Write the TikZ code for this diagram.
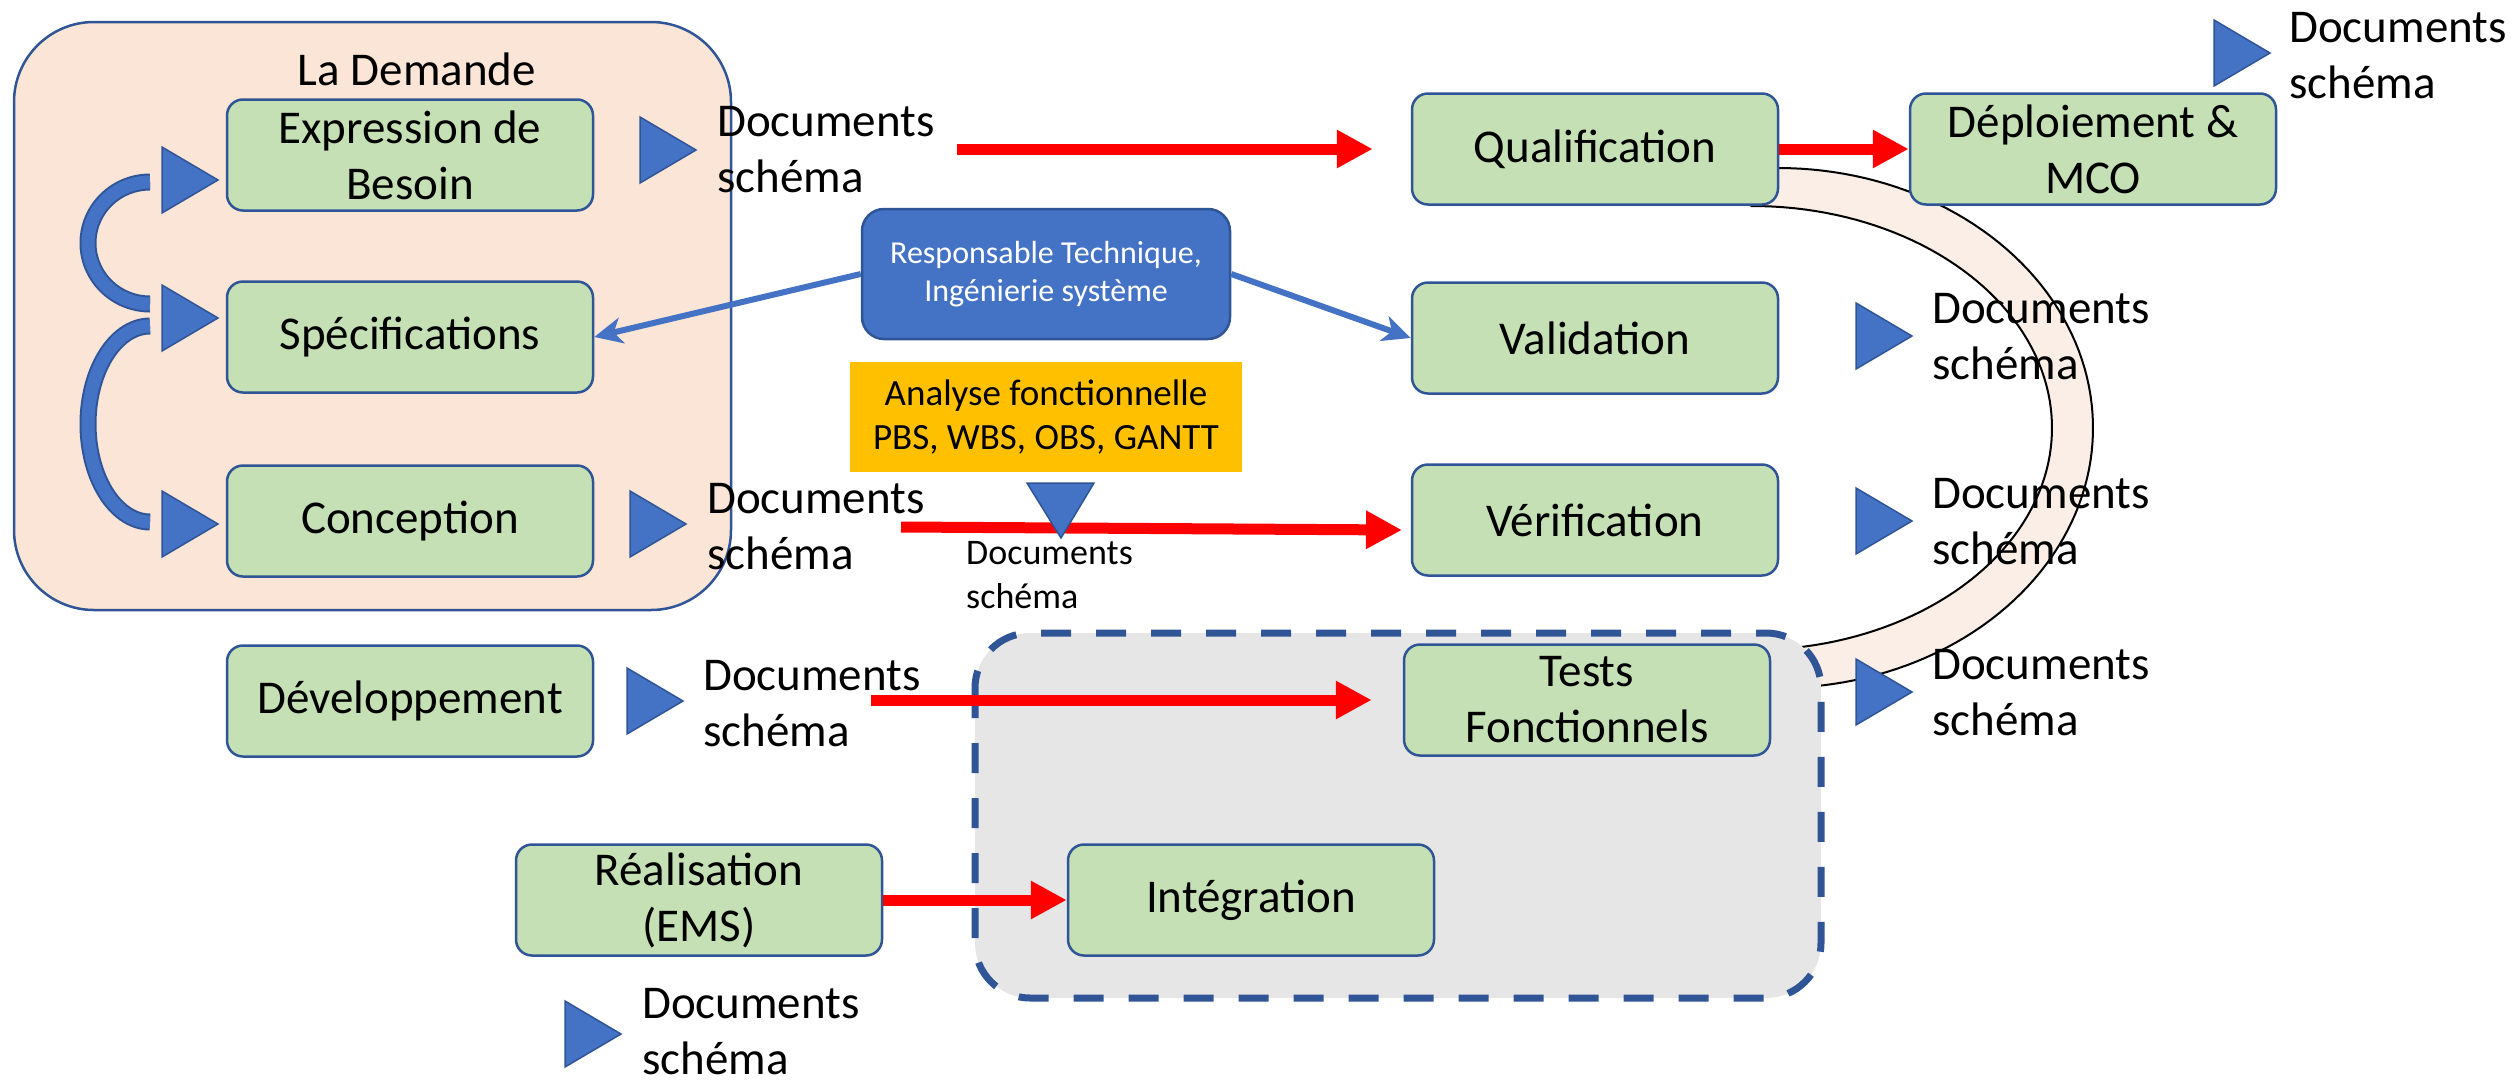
\documentclass[tikz,border=0pt]{standalone}
\usepackage{fontspec}
\setmainfont{Carlito}
\usetikzlibrary{arrows.meta}
\definecolor{boxgreen}{HTML}{C5E0B4}
\definecolor{edgeblue}{HTML}{2F5597}
\definecolor{accent}{HTML}{4472C4}
\definecolor{peach}{HTML}{FBE5D6}
\definecolor{ringfill}{HTML}{FBEEE6}
\definecolor{amber}{HTML}{FFC000}
\definecolor{panelgray}{HTML}{E7E6E6}
\begin{document}
\begin{tikzpicture}[x=1pt,y=-1pt,
  bigtext/.style={font=\fontsize{47}{56}\selectfont},
  phase/.style={draw=edgeblue, line width=2.5pt, fill=boxgreen,
    rounded corners=16pt, align=center, bigtext, inner sep=0pt,
    minimum width=366pt, minimum height=111pt},
  docs/.style={anchor=west, align=left, inner sep=0pt, bigtext},
  redarrow/.style={draw=red, line width=11pt, -{Triangle[length=36pt,width=36pt]}},
  bluearrow/.style={draw=accent, line width=6pt, -{Stealth[length=28pt,width=26pt,inset=8pt]}},
  doctri/.pic={\filldraw[fill=accent, draw=edgeblue, line width=1.5pt]
    (-28,-33) -- (28,0) -- (-28,33) -- cycle;},
  loopband/.style={line width=17pt, draw=edgeblue},
  loopcore/.style={line width=13pt, draw=accent},
]
\useasboundingbox (0,0) rectangle (2519,1082);

% "La Demande" group
\filldraw[fill=peach, draw=edgeblue, line width=2.5pt, rounded corners=80pt]
  (14,22) rectangle (731,610);
\node[bigtext, inner sep=0pt] (demande) at (417,69) {La Demande};

% V-cycle return ring
\filldraw[fill=ringfill, draw=black, line width=2pt]
  plot[domain=-90:90, samples=90] ({1778+315*cos(\x)},{428+260*sin(\x)})
  -- plot[domain=90:-90, samples=90] ({1752+300*cos(\x)},{428+222*sin(\x)})
  -- cycle;

% integration / tests area
\filldraw[fill=panelgray, draw=edgeblue, line width=7pt, rounded corners=55pt,
  dash pattern=on 30pt off 25pt]
  (975,633) rectangle (1821,998);

% phases
\node[phase] (expr)   at (410,155)  {Expression de\\Besoin};
\node[phase] (spec)   at (410,337)  {Spécifications};
\node[phase] (conc)   at (410,521)  {Conception};
\node[phase] (dev)    at (410,701)  {Développement};
\node[phase] (real)   at (699,900)  {Réalisation\\(EMS)};
\node[phase] (integ)  at (1251,900) {Intégration};
\node[phase] (tests)  at (1587,700) {Tests\\Fonctionnels};
\node[phase] (qual)   at (1595,149) {Qualification};
\node[phase] (valid)  at (1595,338) {Validation};
\node[phase] (verif)  at (1595,520) {Vérification};
\node[phase] (deploy) at (2093,149) {Déploiement \&\\MCO};

% coordination and analysis boxes
\node[draw=edgeblue, line width=2.5pt, fill=accent, rounded corners=22pt,
  minimum width=368pt, minimum height=130pt, align=center, text=white,
  inner sep=0pt, font=\fontsize{32}{38}\selectfont]
  (resp) at (1046,274) {Responsable Technique,\\Ingénierie système};
\node[fill=amber, minimum width=392pt, minimum height=110pt, align=center,
  inner sep=0pt, font=\fontsize{37}{44}\selectfont]
  (afonc) at (1046,417) {Analyse fonctionnelle\\PBS, WBS, OBS, GANTT};

% iteration loops of the request phase
\draw[loopband] plot[domain=270:90, samples=60] ({150+62*cos(\x)},{243+61*sin(\x)});
\draw[loopcore] plot[domain=270:90, samples=60] ({150+62*cos(\x)},{243+61*sin(\x)});
\draw[loopband] plot[domain=270:90, samples=60] ({150+62*cos(\x)},{424+98*sin(\x)});
\draw[loopcore] plot[domain=270:90, samples=60] ({150+62*cos(\x)},{424+98*sin(\x)});

% document markers
\pic at (190,180) {doctri};
\pic at (190,318) {doctri};
\pic at (190,524) {doctri};
\pic at (668,150) {doctri};
\pic at (658,524) {doctri};
\pic at (655,701) {doctri};
\pic at (593,1034) {doctri};
\pic at (2242,53) {doctri};
\pic at (1884,336) {doctri};
\pic at (1884,521) {doctri};
\pic at (1884,692) {doctri};

% flow arrows
\coordinate (r1s) at (957,149);
\coordinate (r3s) at (901,527);
\coordinate (r3e) at (1402,530);
\coordinate (r4s) at (871,700);
\draw[redarrow, shorten >=38pt] (r1s) -- (qual.west);
\draw[redarrow] (qual.east) -- (deploy.west);
\draw[redarrow] (r3s) -- (r3e);
\draw[redarrow, shorten >=31pt] (r4s) -- (tests.west);
\draw[redarrow] (real.east) -- (integ.west);

\draw[bluearrow] (resp.west) -- (spec.east);
\draw[bluearrow] (resp.east) -- (valid.west);

% analysis output marker
\filldraw[fill=accent, draw=edgeblue, line width=1.5pt]
  (1027,483) -- (1094,483) -- (1061,538) -- cycle;

% document labels
\node[docs] (dexp)  at (717,150)  {Documents\\schéma};
\node[docs] (dconc) at (707,527)  {Documents\\schéma};
\node[docs] (ddev)  at (703,704)  {Documents\\schéma};
\node[docs] (dreal) at (642,1032) {Documents\\schéma};
\node[docs] (dtop)  at (2289,56)  {Documents\\schéma};
\node[docs] (dval)  at (1932,337) {Documents\\schéma};
\node[docs] (dver)  at (1932,522) {Documents\\schéma};
\node[docs] (dtest) at (1932,693) {Documents\\schéma};
\node[anchor=west, align=left, inner sep=0pt, font=\fontsize{36}{44}\selectfont]
  (dana) at (966,575) {Documents\\schéma};
\end{tikzpicture}
\end{document}
